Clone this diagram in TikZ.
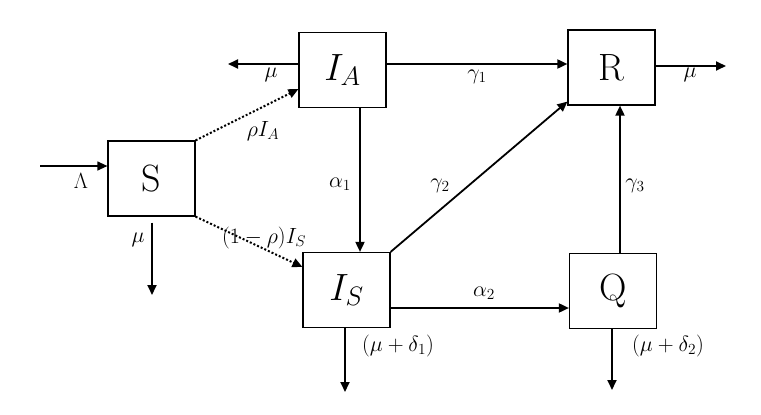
\documentclass[tikz,border=0pt]{standalone}
\usepackage{fix-cm}
\usetikzlibrary{arrows.meta}
\begin{document}
\begin{tikzpicture}[x=1pt,y=-1pt,
  box/.style={draw,line width=1.2pt,minimum width=87pt,minimum height=75pt,inner sep=0pt,font=\fontsize{38}{44}\selectfont},
  flow/.style={line width=1.8pt,-{Triangle[length=10pt,width=9pt]}},
  dflow/.style={line width=2pt,dotted,-{Triangle[length=10pt,width=9pt]}},
  lab/.style={font=\fontsize{22}{26}\selectfont,inner sep=1pt}]
\useasboundingbox (0,0) rectangle (761,415);
\node[box] (S) at (151.5,178.5) {S};
\node[box] (IA) at (342.5,70) {$I_A$};
\node[box] (R) at (611.5,67.5) {R};
\node[box] (IS) at (346.5,290) {$I_S$};
\node[box] (Q) at (613,291) {Q};
\coordinate (lin) at (40,166);
\coordinate (sout) at (152,295);
\coordinate (iaout) at (228,64);
\coordinate (rout) at (726,66);
\coordinate (isout) at (345,392);
\coordinate (qout) at (612,390);
\draw[flow,line width=1.2pt] (lin) -- (S.west |- lin);
\node[lab] at (81,181) {$\Lambda$};
\draw[flow] (S.south -| sout) ++(0,6) -- (sout);
\node[lab] at (138,240) {$\mu$};
\draw[dflow] (S.north east) -- ([yshift=19pt]IA.south west);
\node[lab] at (263,131) {$\rho I_A$};
\draw[dflow] (S.south east) -- ([yshift=23pt]IS.west);
\node[lab] at (264,238) {$(1-\rho)I_S$};
\draw[flow] (IA.west |- iaout) -- (iaout);
\node[lab] at (271,75) {$\mu$};
\draw[flow] (IA.east |- 0,64) -- (R.west |- 0,64);
\node[lab] at (477,77) {$\gamma_1$};
\draw[flow] (IA.south -| 360,0) -- (IS.north -| 360,0);
\node[lab] at (340,184) {$\alpha_1$};
\draw[flow] (IS.north east) -- ([yshift=4pt]R.south west);
\node[lab] at (440,186) {$\gamma_2$};
\draw[flow] (IS.east |- 0,308) -- (Q.west |- 0,308);
\node[lab] at (484,293) {$\alpha_2$};
\draw[flow] (Q.north -| 620,0) -- (R.south -| 620,0);
\node[lab] at (635,186) {$\gamma_3$};
\draw[flow] (R.east |- rout) -- (rout);
\node[lab] at (690,75) {$\mu$};
\draw[flow] (IS.south -| isout) -- (isout);
\node[lab] at (398,346) {$(\mu+\delta_1)$};
\draw[flow] (Q.south -| qout) -- (qout);
\node[lab] at (668,346) {$(\mu+\delta_2)$};
\end{tikzpicture}
\end{document}
